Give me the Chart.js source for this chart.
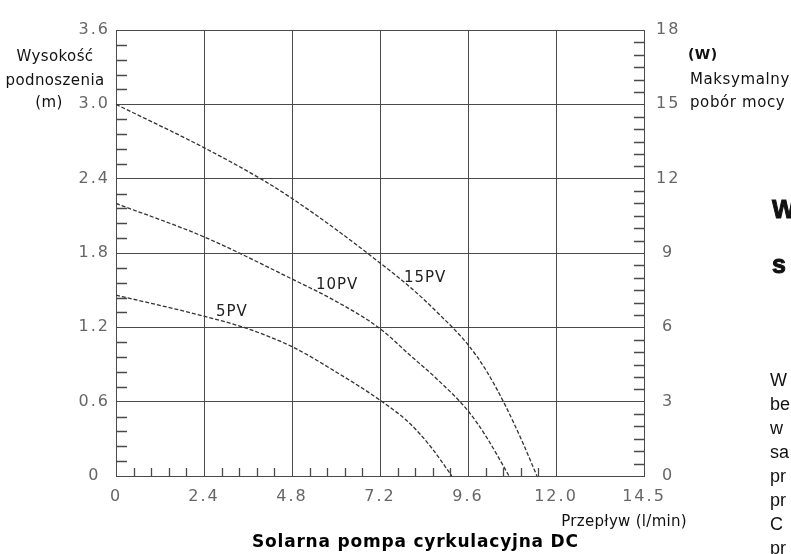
<!DOCTYPE html>
<html>
<head>
<meta charset="utf-8">
<title>Solarna pompa cyrkulacyjna DC</title>
<script src="https://cdn.jsdelivr.net/npm/chart.js@4.4.1/dist/chart.umd.min.js"></script>
<style>
  html, body { margin: 0; padding: 0; background: #fff; overflow: hidden; }
  #wrap { position: relative; width: 791px; height: 554px; overflow: hidden; }
  #wrap canvas { position: absolute; left: 0; top: 0; }
  .side { position: absolute; left: 770px; white-space: nowrap; color: #111;
          font-family: 'Liberation Sans', Arial, sans-serif; }
  .head { font-size: 25px; font-weight: bold; -webkit-text-stroke: 1px #111; line-height: normal; }
  .body { font-size: 18px; line-height: 24px; }
</style>
</head>
<body>
<div id="wrap">
  <canvas id="chartPump" width="791" height="554"></canvas>
  <div class="side head" style="top:195px; left:772px;">W</div>
  <div class="side head" style="top:250px; left:772px;">s</div>
  <div class="side body" style="top:368px;">W<br>be<br>w<br>sa<br>pr<br>pr<br>C<br>pr</div>
</div>
<script>
// dane: przepływ (l/min) -> wysokość podnoszenia (m)
var flow15 = [0, 2.4, 4.0, 4.8, 6.0, 7.2, 8.0, 8.8, 9.6, 10.1, 10.6, 11.1, 11.48];
var head15 = [3.0, 2.65, 2.39, 2.24, 1.99, 1.72, 1.53, 1.31, 1.06, 0.85, 0.58, 0.265, 0];

var flow10 = [0, 2.4, 4.8, 6.0, 7.2, 8.0, 8.8, 9.6, 10.1, 10.72];
var head10 = [2.2, 1.93, 1.59, 1.41, 1.19, 0.98, 0.77, 0.526, 0.316, 0];

var flow5 = [0, 2.4, 3.6, 4.8, 6.0, 7.2, 8.0, 8.6, 9.16];
var head5 = [1.46, 1.29, 1.188, 1.044, 0.84, 0.612, 0.428, 0.23, 0];

var curveNames = ['15PV', '10PV', '5PV'];
var curveLabelFlow = [8.43, 6.03, 3.16];
var curveLabelHead = [1.6, 1.54, 1.32];

var xTickValues = [0, 2.4, 4.8, 7.2, 9.6, 12.0, 14.4];
var xTickLabels = ['0', '2.4', '4.8', '7.2', '9.6', '12.0', '14.5'];
var yTickValues = [0, 0.6, 1.2, 1.8, 2.4, 3.0, 3.6];
var yTickLabels = ['0', '0.6', '1.2', '1.8', '2.4', '3.0', '3.6'];
var wTickValues = [0, 3, 6, 9, 12, 15, 18];
var wTickLabels = ['0', '3', '6', '9', '12', '15', '18'];

var xMinorStep = 0.48, xMinorMax = 12.0;
var yMinorStep = 0.12;
var wMinorStep = 0.5;

function pairs(xs, ys) {
  return xs.map(function (x, i) { return { x: x, y: ys[i] }; });
}

function fixedTicks(values) {
  return function (scale) {
    scale.ticks = values.map(function (v) { return { value: v }; });
  };
}

var gridColor = '#4a4a4a';
var tickFont = { family: "'DejaVu Sans', sans-serif", size: 16 };

// rozstrzelone cyfry podziałki, jak w oryginale
var spacingPlugin = {
  id: 'spacing',
  beforeLayout: function (chart) { chart.ctx.letterSpacing = '2px'; },
  beforeDraw: function (chart) { chart.ctx.letterSpacing = '2px'; }
};

// małe kreski podziałki wewnątrz obszaru wykresu + opisy
var extrasPlugin = {
  id: 'extras',
  afterDatasetsDraw: function (chart) {
    var ctx = chart.ctx;
    var a = chart.chartArea;
    var sx = chart.scales.x, sy = chart.scales.y, sw = chart.scales.yW;
    var v, p;
    ctx.save();
    ctx.strokeStyle = gridColor;
    ctx.lineWidth = 1.3;
    ctx.beginPath();
    for (v = yMinorStep; v < sy.max - 1e-6; v += yMinorStep) {
      if (Math.abs(v / 0.6 - Math.round(v / 0.6)) < 1e-6) continue;
      p = Math.round(sy.getPixelForValue(v)) + 0.5;
      ctx.moveTo(a.left, p); ctx.lineTo(a.left + 11, p);
    }
    for (v = wMinorStep; v < sw.max - 1e-6; v += wMinorStep) {
      if (Math.abs(v / 3 - Math.round(v / 3)) < 1e-6) continue;
      p = Math.round(sw.getPixelForValue(v)) + 0.5;
      ctx.moveTo(a.right, p); ctx.lineTo(a.right - 10, p);
    }
    for (v = xMinorStep; v < xMinorMax - 1e-6; v += xMinorStep) {
      if (Math.abs(v / 2.4 - Math.round(v / 2.4)) < 1e-6) continue;
      p = Math.round(sx.getPixelForValue(v)) + 0.5;
      ctx.moveTo(p, a.bottom); ctx.lineTo(p, a.bottom - 8);
    }
    ctx.stroke();

    // nazwy krzywych
    ctx.fillStyle = '#222';
    ctx.font = "15px 'DejaVu Sans', sans-serif";
    ctx.letterSpacing = '1px';
    ctx.textAlign = 'center';
    ctx.textBaseline = 'middle';
    curveNames.forEach(function (name, i) {
      ctx.fillText(name, sx.getPixelForValue(curveLabelFlow[i]), sy.getPixelForValue(curveLabelHead[i]));
    });

    // opisy osi
    ctx.fillStyle = '#111';
    ctx.letterSpacing = '0.4px';
    ctx.font = "15px 'DejaVu Sans', sans-serif";
    ctx.fillText('Wysokość', 55, 57);
    ctx.fillText('podnoszenia', 55, 81);
    ctx.fillText('(m)', 49, 103);
    ctx.textAlign = 'left';
    ctx.font = "bold 14px 'DejaVu Sans', sans-serif";
    ctx.fillText('(W)', 688, 55);
    ctx.letterSpacing = '0.6px';
    ctx.font = "15px 'DejaVu Sans', sans-serif";
    ctx.fillText('Maksymalny', 690, 80);
    ctx.fillText('pobór mocy', 690, 103);
    ctx.textAlign = 'right';
    ctx.letterSpacing = '0.3px';
    ctx.fillText('Przepływ (l/min)', 687, 522);

    ctx.textAlign = 'left';
    ctx.textBaseline = 'alphabetic';
    ctx.fillStyle = '#000';
    ctx.letterSpacing = '0.8px';
    ctx.font = "bold 17px 'DejaVu Sans', sans-serif";
    ctx.fillText('Solarna pompa cyrkulacyjna DC', 252, 547);
    ctx.restore();
  }
};

function curve(label, xs, ys) {
  return {
    label: label,
    data: pairs(xs, ys),
    showLine: true,
    borderColor: '#333',
    borderWidth: 1.3,
    borderDash: [4, 2],
    pointRadius: 0,
    cubicInterpolationMode: 'monotone',
    yAxisID: 'y'
  };
}

new Chart(document.getElementById('chartPump'), {
  type: 'scatter',
  data: {
    datasets: [
      curve('15PV', flow15, head15),
      curve('10PV', flow10, head10),
      curve('5PV', flow5, head5)
    ]
  },
  options: {
    responsive: false,
    animation: false,
    events: [],
    layout: { padding: { top: 30, left: 0, right: 0, bottom: 0 } },
    plugins: { legend: { display: false }, tooltip: { enabled: false } },
    scales: {
      x: {
        type: 'linear', min: 0, max: 14.4,
        afterBuildTicks: fixedTicks(xTickValues),
        afterFit: function (s) { s.height = 78; },
        grid: { color: gridColor, drawTicks: false },
        border: { color: gridColor, width: 1 },
        ticks: {
          color: '#666', font: tickFont, padding: 11, maxRotation: 0, autoSkip: false,
          callback: function (v, i) { return xTickLabels[i]; }
        }
      },
      y: {
        type: 'linear', position: 'left', min: 0, max: 3.6,
        afterBuildTicks: fixedTicks(yTickValues),
        afterFit: function (s) { s.width = 116; },
        grid: { color: gridColor, drawTicks: false },
        border: { color: gridColor, width: 1 },
        ticks: {
          color: '#666', font: tickFont, padding: 6, crossAlign: 'center',
          callback: function (v, i) { return yTickLabels[i]; }
        }
      },
      yW: {
        type: 'linear', position: 'right', min: 0, max: 18,
        afterBuildTicks: fixedTicks(wTickValues),
        afterFit: function (s) { s.width = 147; },
        grid: { drawOnChartArea: false, drawTicks: false },
        border: { color: gridColor, width: 1 },
        ticks: {
          color: '#666', font: tickFont, padding: 12, crossAlign: 'center',
          callback: function (v, i) { return wTickLabels[i]; }
        }
      }
    }
  },
  plugins: [spacingPlugin, extrasPlugin]
});
</script>
</body>
</html>
